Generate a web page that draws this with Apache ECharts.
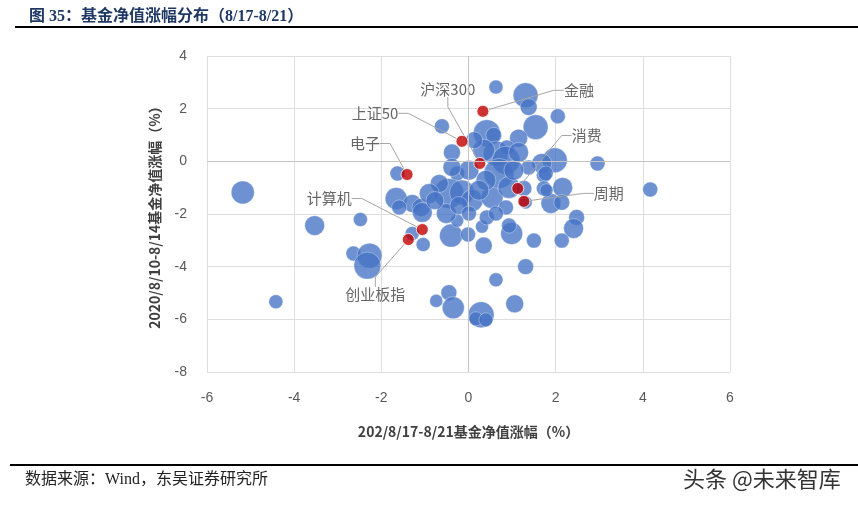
<!DOCTYPE html>
<html>
<head>
<meta charset="utf-8">
<title>基金净值涨幅分布</title>
<script src="https://cdn.jsdelivr.net/npm/echarts@6/dist/echarts.min.js"></script>
<style>
    html, body { margin: 0; padding: 0; background: #fff; }
    #chart { width: 858px; height: 506px; }
</style>
</head>
<body>
<div id="chart"></div>
<script>
    // 基金: [8/17-8/21涨幅, 8/10-8/14涨幅, 规模]
    var fundPoints = [
        [-5.18, -1.18, 59], [-4.42, -5.33, 22], [-3.53, -2.44, 44], [-2.48, -2.21, 22],
        [-2.64, -3.50, 25], [-2.27, -3.58, 69], [-2.32, -3.96, 81], [-1.63, -0.46, 25],
        [-1.66, -1.41, 54], [-1.29, -1.60, 36], [-1.59, -1.75, 25], [-1.09, -1.75, 36],
        [-1.06, -1.94, 44], [-0.61, 1.33, 25], [-0.38, 0.34, 32], [-1.04, -3.16, 22],
        [-1.29, -2.74, 22], [-0.40, -2.82, 59], [-0.74, -5.30, 19], [-0.45, -4.99, 28],
        [-0.35, -5.56, 54], [0.35, -3.20, 32], [1.31, -4.00, 28], [0.63, -4.50, 22],
        [0.29, -5.83, 75], [0.17, -5.98, 22], [0.40, -6.02, 22], [1.06, -5.41, 36],
        [2.48, -2.13, 28], [2.41, -2.55, 44], [2.14, -3.01, 25], [1.50, -3.01, 25],
        [0.99, -2.74, 54], [0.93, -2.44, 25], [0.31, -2.48, 19], [0.42, -2.13, 25],
        [-0.01, -2.78, 25], [-0.26, -2.25, 19], [2.05, 1.71, 25], [1.98, 0.04, 69],
        [1.68, -0.08, 44], [2.96, -0.08, 25], [1.73, -0.53, 25], [2.16, -0.99, 44],
        [1.73, -1.03, 25], [1.89, -1.60, 44], [2.14, -1.56, 28], [4.17, -1.07, 25],
        [0.63, 2.82, 22], [1.31, 2.51, 69], [1.38, 2.06, 32], [1.54, 1.30, 69],
        [0.42, 1.07, 81], [0.58, 0.99, 28], [1.15, 0.88, 36], [0.63, 0.30, 69],
        [0.88, 0.53, 25], [0.86, 0.04, 87], [1.38, -0.23, 25], [-0.26, -0.46, 25],
        [0.01, -0.34, 44], [-0.45, -1.22, 100], [-0.15, -1.18, 69], [0.08, -1.49, 54],
        [0.54, -1.37, 54], [0.70, -0.46, 100], [0.40, -0.72, 44], [0.93, -0.99, 54],
        [0.86, -1.75, 25], [1.31, -1.56, 19], [1.77, -0.46, 25], [1.79, -1.10, 19],
        [-0.51, -1.98, 44], [-0.38, -0.23, 36], [-0.67, -0.84, 36], [-0.90, -1.22, 44],
        [-0.77, -1.49, 36], [1.04, -0.34, 44], [1.15, 0.34, 44], [0.35, 0.42, 54],
        [0.13, 0.80, 32], [-0.22, -1.68, 36], [0.24, -1.10, 44], [1.27, -1.03, 28],
        [0.63, -1.98, 25], [0.01, -1.98, 25]
    ];

    // 指数/行业
    var indexNames = ['上证50', '沪深300', '金融', '电子', '消费', '周期', '计算机', '创业板指'];
    var indexX = [-0.15, 0.26, 0.33, -1.41, 1.13, 1.27, -1.06, -1.38];
    var indexY = [0.76, -0.08, 1.90, -0.50, -1.03, -1.52, -2.59, -2.97];

    var xTicks = [-6, -4, -2, 0, 2, 4, 6];
    var yTicks = [-8, -6, -4, -2, 0, 2, 4];

    // 标签相对于点的偏移(像素)
    var labelOffsets = [[-87, -28], [-32, -74], [96, -21], [-42, -31], [69, -53], [85, -8], [-93, -31], [-33, 55]];

    var indexData = indexNames.map(function (n, i) {
        return {name: n, value: [indexX[i], indexY[i]]};
    });

    var chart = echarts.init(document.getElementById('chart'), null, {renderer: 'canvas'});
    var option = {
        animation: false,
        backgroundColor: '#fff',
        title: {
            text: '图 35：基金净值涨幅分布（8/17-8/21）',
            left: 24,
            top: 4,
            textStyle: {
                fontSize: 16,
                fontWeight: 'bold',
                color: '#1f3864',
                fontFamily: '"Liberation Serif", "Noto Sans CJK SC", serif'
            }
        },
        grid: {left: 207, right: 128, top: 56, bottom: 134},
        xAxis: {
            type: 'value',
            min: xTicks[0],
            max: xTicks[xTicks.length - 1],
            interval: 2,
            name: '202/8/17-8/21基金净值涨幅（%）',
            nameLocation: 'middle',
            nameGap: 53,
            nameTextStyle: {fontSize: 14, fontWeight: 'bold', color: '#404040', fontFamily: '"Noto Sans CJK SC"'},
            axisLine: {show: false},
            axisTick: {show: false},
            axisLabel: {margin: 19, fontSize: 14, color: '#595959', fontFamily: '"Liberation Sans", Arial'},
            splitLine: {lineStyle: {color: '#dedede', width: 1}}
        },
        yAxis: {
            type: 'value',
            min: yTicks[0],
            max: yTicks[yTicks.length - 1],
            interval: 2,
            name: '2020/8/10-8/14基金净值涨幅（%）',
            nameLocation: 'middle',
            nameGap: 45,
            nameTextStyle: {fontSize: 14, fontWeight: 'bold', color: '#404040', fontFamily: '"Noto Sans CJK SC"'},
            axisLine: {show: false},
            axisTick: {show: false},
            axisLabel: {margin: 20, fontSize: 14, color: '#595959', fontFamily: '"Liberation Sans", Arial'},
            splitLine: {lineStyle: {color: '#dedede', width: 1}}
        },
        graphic: [
            {type: 'line', shape: {x1: 15, y1: 27, x2: 858, y2: 27}, style: {stroke: '#000', lineWidth: 2}},
            {type: 'line', shape: {x1: 10, y1: 465, x2: 858, y2: 465}, style: {stroke: '#000', lineWidth: 2}},
            {
                type: 'text', left: 25, top: 472,
                style: {text: '数据来源：Wind，东吴证券研究所', fontSize: 16, fill: '#222', fontFamily: '"Liberation Serif", "Noto Sans CJK SC", serif'}
            },
            {
                type: 'text', left: 683, top: 468,
                style: {text: '头条 @未来智库', fontSize: 22, fill: '#333', fontFamily: '"Noto Sans CJK SC"'}
            }
        ],
        series: [
            {
                name: '基金',
                type: 'scatter',
                data: fundPoints,
                symbolSize: function (d) {
                    return Math.sqrt(d[2]) * 3;
                },
                itemStyle: {
                    color: '#4472c4',
                    opacity: 0.78,
                    borderColor: 'rgba(255,255,255,0.45)',
                    borderWidth: 1
                },
                markLine: {
                    silent: true,
                    symbol: 'none',
                    label: {show: false},
                    lineStyle: {color: '#c4c4c4', type: 'solid', width: 1},
                    data: [{yAxis: 0}, {xAxis: 0}]
                },
                z: 2
            },
            {
                name: '指数',
                type: 'scatter',
                data: indexData,
                symbolSize: 12,
                itemStyle: {color: '#c00000', borderColor: '#fff', borderWidth: 1},
                label: {
                    show: true,
                    formatter: '{b}',
                    fontSize: 15,
                    color: '#404040',
                    fontFamily: '"Noto Sans CJK SC"'
                },
                labelLine: {
                    show: true,
                    length2: 10,
                    lineStyle: {color: '#a6a6a6', width: 1}
                },
                labelLayout: function (p) {
                    var off = labelOffsets[p.dataIndex];
                    return {
                        x: p.rect.x + p.rect.width / 2 + off[0],
                        y: p.rect.y + p.rect.height / 2 + off[1],
                        align: 'center',
                        verticalAlign: 'middle'
                    };
                },
                z: 3
            }
        ]
    };
    chart.setOption(option);
</script>
</body>
</html>
